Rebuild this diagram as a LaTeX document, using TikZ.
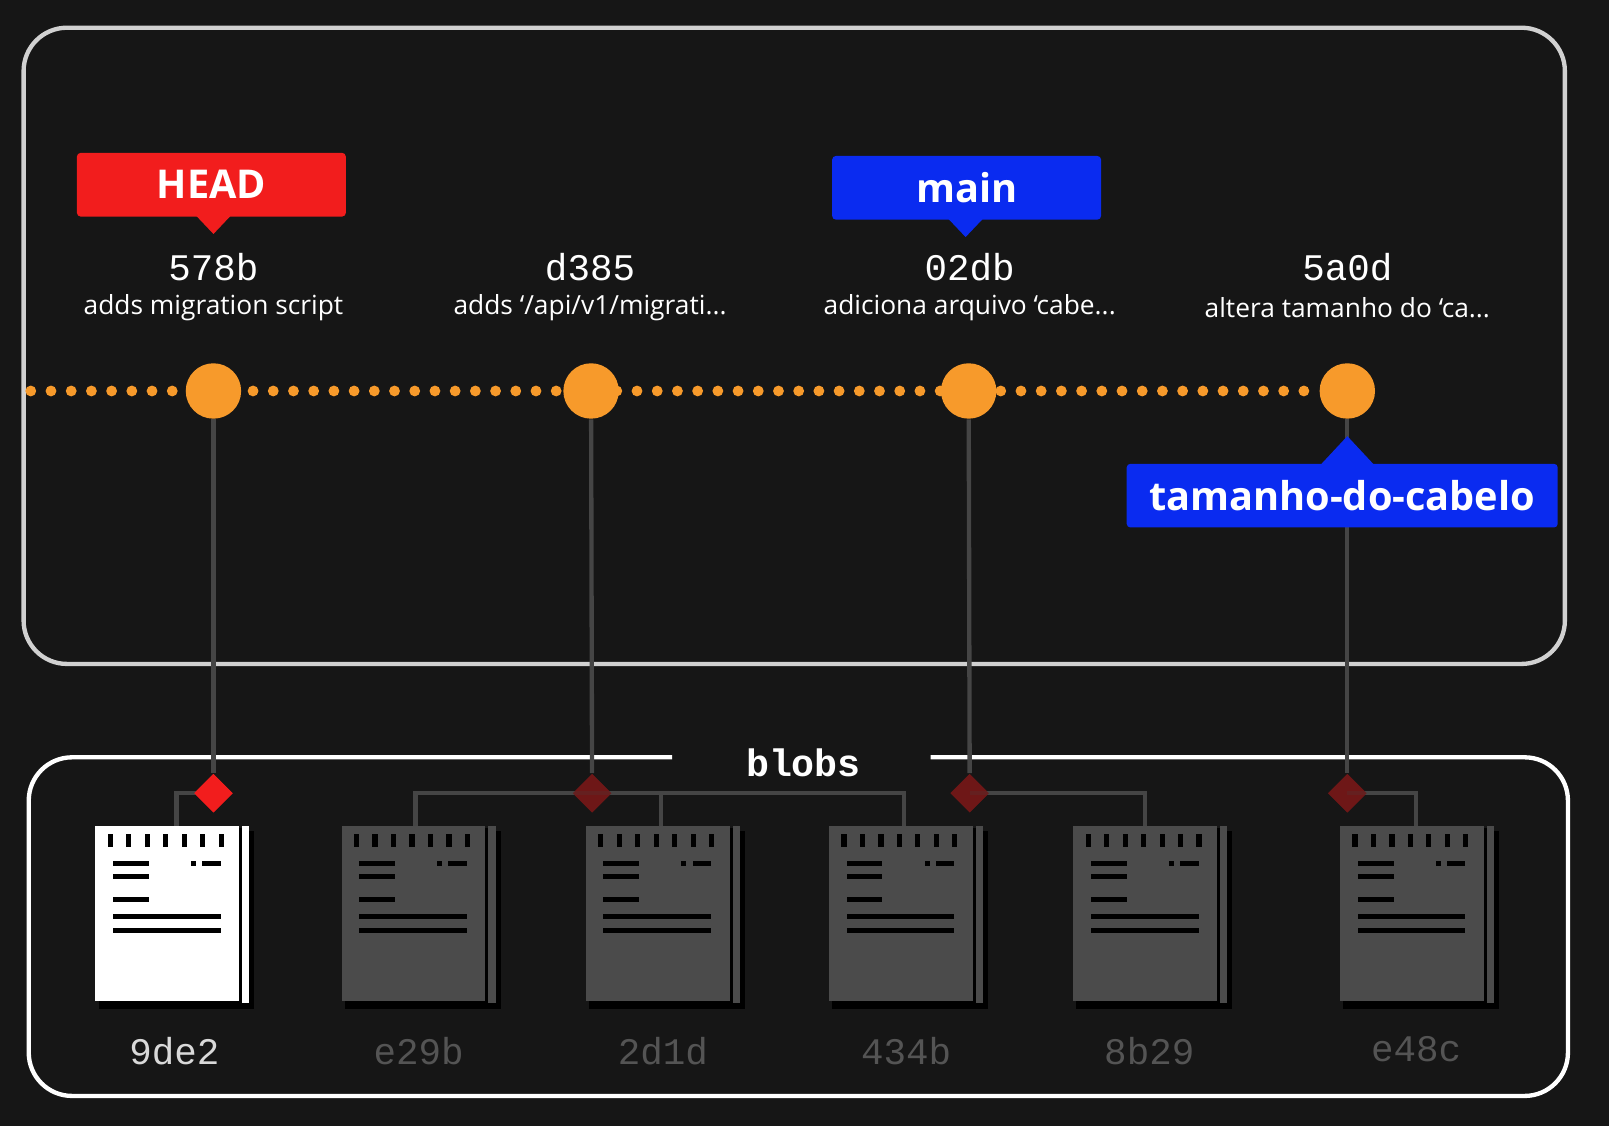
\documentclass[tikz,border=0pt]{standalone}
\usetikzlibrary{shapes.geometric}
\usepackage{fontspec}
\setmainfont{Open Sans}
\newfontfamily\monof{Liberation Mono}
\begin{document}
\begin{tikzpicture}[x=0.01cm,y=-0.01cm,
  hash/.style={font=\monof\fontsize{10.4}{12}\selectfont, text=white},
  msg/.style={font=\fontsize{7.3}{9}\selectfont, text=white},
  tag/.style={font=\bfseries\fontsize{11}{13}\selectfont, text=white, minimum width=262*0.01cm, minimum height=62*0.01cm, inner sep=0pt, rounded corners=1pt},
  commit/.style={circle, fill=corange, minimum size=54*0.01cm, inner sep=0pt},
  vline/.style={draw=cgray, line width=1.2pt},
  dia/.style={diamond, minimum size=38*0.01cm, inner sep=0pt},
  blab/.style={font=\monof\fontsize{10.4}{12}\selectfont},
  icon/.pic={
    \fill[black] (3,5) rectangle (155,178);
    \fill[#1] (0,0) rectangle (140,170);
    \fill[#1] (143,0) rectangle (150,172);
    \fill[black] (140,2) rectangle (143,172);
    \foreach \i in {0,...,6} \fill[black] (12+\i*18,8) rectangle (17+\i*18,20);
    \fill[black] (17,34) rectangle (52,39);
    \fill[black] (17,47) rectangle (52,52);
    \fill[black] (17,69) rectangle (52,74);
    \fill[black] (17,86) rectangle (122,91);
    \fill[black] (17,99) rectangle (122,104);
    \fill[black] (93,34) rectangle (98,39);
    \fill[black] (104,34) rectangle (122,39);
  }]
\definecolor{bg}{HTML}{161616}
\definecolor{corange}{HTML}{F79A2B}
\definecolor{cred}{HTML}{F21D1D}
\definecolor{cblue}{HTML}{0A2BF0}
\definecolor{cgray}{HTML}{454545}
\definecolor{dred}{HTML}{6E1717}
\definecolor{igray}{HTML}{4B4B4B}
\fill[bg] (0,0) rectangle (1568,1097.3);
\useasboundingbox (0,0) rectangle (1568,1097.3);
% frames
\draw[draw=white!82!black, line width=1.2pt, rounded corners=12] (23,27) rectangle (1525,647);
\draw[draw=white, line width=1.2pt, rounded corners=12] (655,738) -- (28,738) -- (28,1068) -- (1528,1068) -- (1528,738) -- (907,738);
\node[font=\monof\bfseries\fontsize{10.6}{12}\selectfont, text=white] (blobs) at (783,743) {blobs};
% dotted line
\coordinate (ls) at (30,381);
\coordinate (le) at (1285,381);
\draw[corange, line width=3pt, line cap=round, dash pattern=on 0pt off 5.6pt] (ls) -- (le);
% commits
\foreach \n/\x in {c1/208,c2/576,c3/944,c4/1313} \node[commit] (\n) at (\x,381) {};
% blobs icons
\foreach \n/\x/\c in {b1/93/white,b2/333/igray,b3/571/igray,b4/808/igray,b5/1046/igray,b6/1306/igray}
  \pic at (\x,805) {icon=\c};
% diamonds
\node[dia, fill=cred] (d1) at (208,773) {};
\node[dia, fill=dred] (d2) at (577,773) {};
\node[dia, fill=dred] (d3) at (945,773) {};
\node[dia, fill=dred] (d4) at (1313,773) {};
\coordinate (t1) at (172,805);
\coordinate (t2) at (405,805);
\coordinate (t3) at (644,805);
\coordinate (t4) at (881,805);
\coordinate (t5) at (1116,805);
\coordinate (t6) at (1380,805);
\draw[vline] (c1) -- (d1);
\draw[vline] (c2) -- (d2);
\draw[vline] (c3) -- (d3);
\draw[vline] (c4) -- (d4);
\draw[vline] (d1.center) -| (t1);
\draw[vline] (d2.center) -| (t2);
\draw[vline] (d2.center) -| (t4);
\draw[vline] (t3) -- (t3 |- d2);
\draw[vline] (d3.center) -| (t5);
\draw[vline] (d4.center) -| (t6);
\node[dia, fill=cred] at (d1) {};
\node[dia, fill=dred, opacity=0.8] at (d2) {};
\node[dia, fill=dred, opacity=0.8] at (d3) {};
\node[dia, fill=dred, opacity=0.8] at (d4) {};
% blob labels
\node[blab, text=white!85!black] (l1) at (170,1024) {9de2};
\node[blab, text=white!33!black] (l2) at (408,1024) {e29b};
\node[blab, text=white!33!black] (l3) at (646,1024) {2d1d};
\node[blab, text=white!33!black] (l4) at (883,1024) {434b};
\node[blab, text=white!33!black] (l5) at (1120,1024) {8b29};
\node[blab, text=white!33!black] (l6) at (1380,1022) {e48c};
% commit texts
\node[hash] (h1) at (208,260) {578b};
\node[hash] (h2) at (575,260) {d385};
\node[hash] (h3) at (945,260) {02db};
\node[hash] (h4) at (1313,260) {5a0d};
\node[msg] (m1) at (208,300) {adds migration script};
\node[msg] (m2) at (575,300) {adds `/api/v1/migrati...};
\node[msg] (m3) at (945,300) {adiciona arquivo `cabe...};
\node[msg] (m4) at (1313,300) {altera tamanho do `ca...};
% tags
\fill[cred] (190,209) -- (208,228) -- (226,209) -- cycle;
\node[tag, fill=cred] (head) at (206,180) {HEAD};
\fill[cblue] (923,212) -- (941,231) -- (959,212) -- cycle;
\node[tag, fill=cblue] (main) at (942,183) {main};
\fill[cblue] (1285,455) -- (1313,425) -- (1341,455) -- cycle;
\node[tag, fill=cblue, minimum width=420*0.01cm] (br) at (1308,483) {tamanho-do-cabelo};
\end{tikzpicture}
\end{document}
